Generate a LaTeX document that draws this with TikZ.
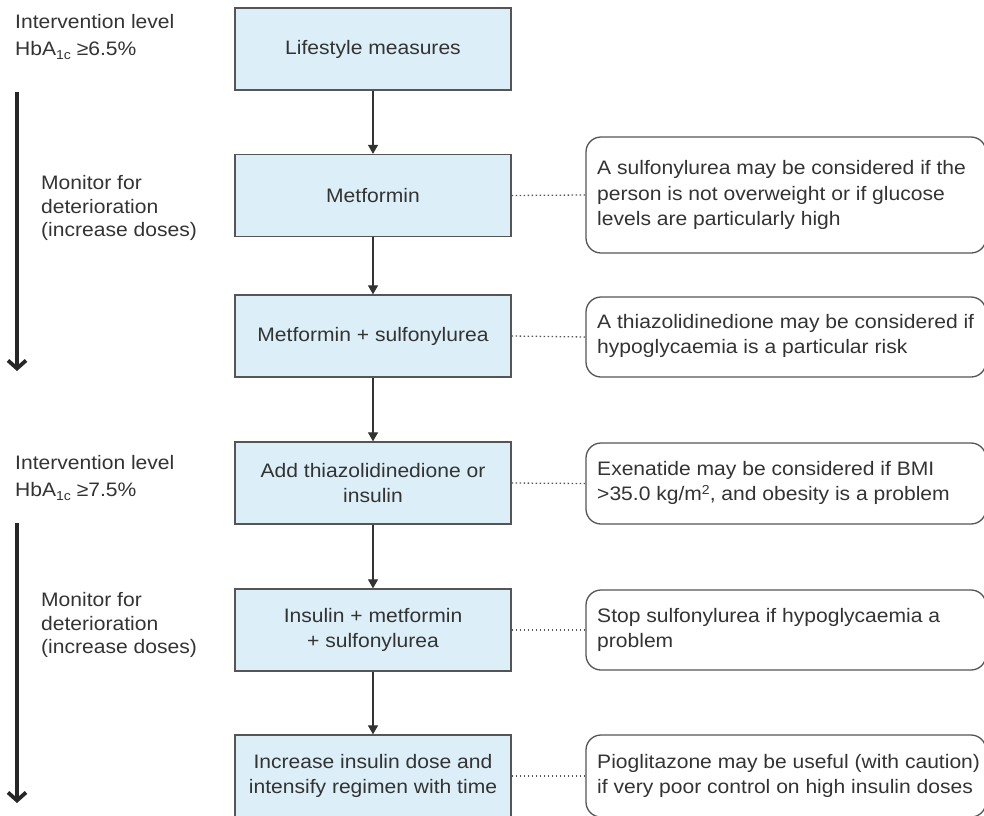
\documentclass[tikz,border=0pt]{standalone}
\usepackage{fontspec}
\setmainfont[FakeStretch=1.08]{Liberation Sans}
\usetikzlibrary{arrows.meta}
\definecolor{txt}{HTML}{333333}
\definecolor{boxfill}{HTML}{DCEEF7}
\definecolor{edge}{HTML}{555555}
\newcommand{\hbsubs}{\raisebox{-0.45ex}{\fontsize{13}{13}\selectfont 1c}}
\tikzset{
  bluebox/.style={draw=edge, line width=1.3pt, fill=boxfill, minimum width=276pt, minimum height=82pt, align=center, text=txt, font=\fontsize{19.5}{25}\selectfont, inner sep=0pt},
  notebox/.style={draw=edge, line width=1.3pt, rounded corners=15pt, minimum width=400pt, inner sep=0pt},
  notetext/.style={anchor=west, align=left, text=txt, font=\fontsize{19.5}{25.5}\selectfont, inner sep=0pt},
  sidetext/.style={anchor=west, align=left, text=txt, font=\fontsize{19.5}{23.5}\selectfont, inner sep=0pt},
  leveltext/.style={anchor=west, align=left, text=txt, font=\fontsize{19.5}{27}\selectfont, inner sep=0pt},
  flow/.style={draw=txt, line width=1.2pt, -{Triangle[length=9pt,width=10pt]}},
  link/.style={draw=edge, line width=1.3pt, dash pattern=on 1.5pt off 2.5pt},
  bigarrow/.style={draw=black!85, line width=3.8pt, -{Straight Barb[length=8pt,width=18pt]}}
}
\begin{document}
\begin{tikzpicture}[x=1pt,y=-1pt]
\useasboundingbox (0,0) rectangle (984,815);
\clip (0,0) rectangle (984,815);
% main column
\node[bluebox] (b1) at (373,49) {Lifestyle measures};
\node[bluebox] (b2) at (373,195.5) {Metformin};
\node[bluebox] (b3) at (373,336) {Metformin + sulfonylurea};
\node[bluebox] (b4) at (373,483) {Add thiazolidinedione or\\insulin};
\node[bluebox] (b5) at (373,630) {Insulin + metformin\\+ sulfonylurea};
\node[bluebox] (b6) at (373,776) {Increase insulin dose and\\intensify regimen with time};
\draw[flow] (b1) -- (b2);
\draw[flow] (b2) -- (b3);
\draw[flow] (b3) -- (b4);
\draw[flow] (b4) -- (b5);
\draw[flow] (b5) -- (b6);
% notes
\node[notebox, minimum height=116pt] (r1) at (786,195) {};
\node[notetext] (r1t) at (597,195) {A sulfonylurea may be considered if the\\person is not overweight or if glucose\\levels are particularly high};
\node[notebox, minimum height=80pt] (r2) at (786,337) {};
\node[notetext] (r2t) at (597,336) {A thiazolidinedione may be considered if\\hypoglycaemia is a particular risk};
\node[notebox, minimum height=81pt] (r3) at (786,483.5) {};
\node[notetext] (r3t) at (597,483) {Exenatide may be considered if BMI\\>35.0 kg/m\raisebox{0.6ex}{\fontsize{13}{13}\selectfont 2}, and obesity is a problem};
\node[notebox, minimum height=80pt] (r4) at (786,630) {};
\node[notetext] (r4t) at (597,630) {Stop sulfonylurea if hypoglycaemia a\\problem};
\node[notebox, minimum height=82pt] (r5) at (786,776) {};
\node[notetext] (r5t) at (597,776) {Pioglitazone may be useful (with caution)\\if very poor control on high insulin doses};
\draw[link] (b2.east) -- (r1.west);
\draw[link] (b3.east) -- (r2.west);
\draw[link] (b4.east) -- (r3.west);
\draw[link] (b5.east) -- (r4.west);
\draw[link] (b6.east) -- (r5.west);
% left side
\node[leveltext] (lv1) at (15,37) {Intervention level\\HbA\hbsubs\ ≥6.5\%};
\node[leveltext] (lv2) at (15,478) {Intervention level\\HbA\hbsubs\ ≥7.5\%};
\node[sidetext] (m1) at (41,208) {Monitor for\\deterioration\\(increase doses)};
\node[sidetext] (m2) at (41,625) {Monitor for\\deterioration\\(increase doses)};
\coordinate (a1s) at (17,92);
\coordinate (a1e) at (17,371);
\coordinate (a2s) at (17,523);
\coordinate (a2e) at (17,803);
\draw[bigarrow] (a1s) -- (a1e);
\draw[bigarrow] (a2s) -- (a2e);
\end{tikzpicture}
\end{document}
